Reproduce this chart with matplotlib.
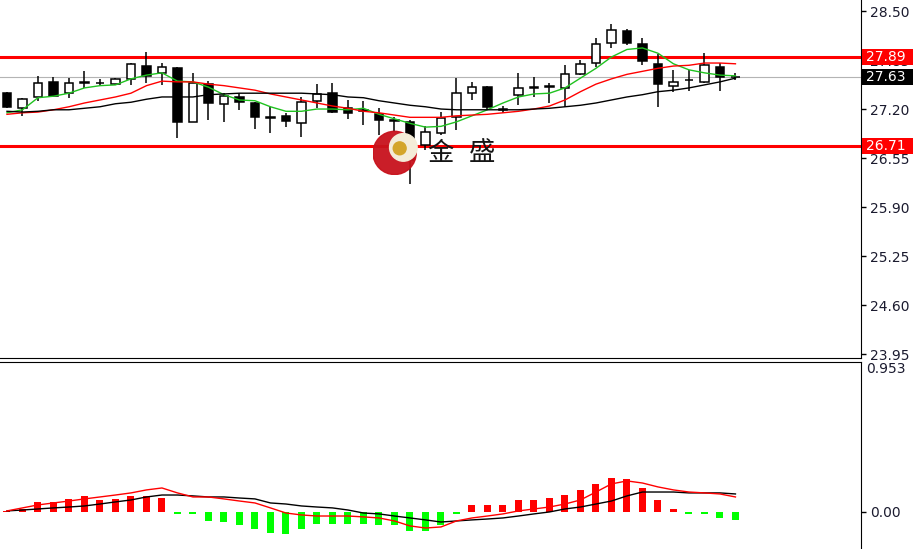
import numpy as np
import matplotlib.pyplot as plt
from matplotlib.patches import Rectangle, Circle
from matplotlib.transforms import blended_transform_factory

# candle data (oldest first)
opens  = [27.41, 27.21, 27.36, 27.56, 27.41, 27.55, 27.54, 27.53, 27.60, 27.77,
          27.68, 27.74, 27.03, 27.53, 27.27, 27.36, 27.28, 27.08, 27.11, 27.01,
          27.31, 27.41, 27.21, 27.19, 27.13, 27.05, 27.03, 26.72, 26.88, 27.09,
          27.41, 27.49, 27.19, 27.39, 27.48, 27.49, 27.48, 27.66, 27.81, 28.08,
          28.23, 28.06, 27.80, 27.51, 27.58, 27.56, 27.76, 27.62]
highs  = [27.42, 27.34, 27.64, 27.62, 27.61, 27.70, 27.60, 27.61, 27.81, 27.96,
          27.81, 27.76, 27.68, 27.57, 27.41, 27.41, 27.29, 27.23, 27.15, 27.36,
          27.53, 27.55, 27.32, 27.31, 27.21, 27.09, 27.05, 26.97, 27.16, 27.61,
          27.56, 27.51, 27.24, 27.68, 27.62, 27.55, 27.78, 27.85, 28.14, 28.33,
          28.26, 28.14, 27.93, 27.72, 27.72, 27.94, 27.81, 27.68]
lows   = [27.21, 27.11, 27.31, 27.36, 27.35, 27.48, 27.50, 27.52, 27.52, 27.55,
          27.52, 26.82, 27.03, 27.05, 27.03, 27.19, 26.93, 26.88, 26.96, 26.83,
          27.21, 27.15, 27.07, 26.99, 26.86, 26.89, 26.21, 26.66, 26.86, 26.92,
          27.32, 27.19, 27.15, 27.25, 27.36, 27.28, 27.23, 27.65, 27.76, 28.01,
          28.05, 27.78, 27.23, 27.43, 27.44, 27.55, 27.44, 27.58]
closes = [27.23, 27.33, 27.55, 27.37, 27.55, 27.56, 27.55, 27.60, 27.80, 27.64,
          27.76, 27.03, 27.55, 27.28, 27.37, 27.29, 27.09, 27.09, 27.04, 27.29,
          27.40, 27.16, 27.15, 27.18, 27.05, 27.04, 26.52, 26.90, 27.08, 27.41,
          27.49, 27.23, 27.20, 27.48, 27.49, 27.51, 27.66, 27.80, 28.06, 28.25,
          28.08, 27.84, 27.53, 27.56, 27.59, 27.78, 27.62, 27.63]

# moving averages as drawn on the chart
ma_fast = [27.15, 27.19, 27.35, 27.37, 27.41, 27.48, 27.51, 27.52, 27.60, 27.65,
           27.68, 27.57, 27.56, 27.49, 27.39, 27.32, 27.31, 27.23, 27.17, 27.17,
           27.20, 27.20, 27.19, 27.21, 27.13, 27.07, 27.01, 26.96, 26.97, 27.03,
           27.11, 27.19, 27.28, 27.36, 27.40, 27.41, 27.48, 27.61, 27.74, 27.89,
           27.99, 28.01, 27.94, 27.80, 27.72, 27.68, 27.65, 27.64]
ma_mid  = [27.13, 27.15, 27.16, 27.19, 27.23, 27.28, 27.32, 27.36, 27.41, 27.51,
           27.57, 27.56, 27.56, 27.53, 27.51, 27.48, 27.45, 27.40, 27.36, 27.32,
           27.28, 27.24, 27.21, 27.17, 27.15, 27.12, 27.09, 27.09, 27.09, 27.11,
           27.12, 27.13, 27.15, 27.17, 27.20, 27.24, 27.32, 27.43, 27.53, 27.60,
           27.66, 27.70, 27.74, 27.77, 27.78, 27.81, 27.81, 27.80]
ma_slow = [27.17, 27.16, 27.17, 27.19, 27.19, 27.21, 27.23, 27.27, 27.29, 27.33,
           27.36, 27.36, 27.36, 27.39, 27.40, 27.41, 27.41, 27.41, 27.41, 27.41,
           27.40, 27.39, 27.36, 27.35, 27.31, 27.28, 27.25, 27.23, 27.20, 27.19,
           27.19, 27.19, 27.19, 27.19, 27.20, 27.21, 27.23, 27.25, 27.28, 27.32,
           27.36, 27.39, 27.43, 27.45, 27.48, 27.52, 27.56, 27.61]

# MACD panel
macd_hist = [0.005, 0.02, 0.066, 0.066, 0.087, 0.107, 0.08, 0.087, 0.107, 0.107,
             0.093, -0.012, -0.012, -0.06, -0.067, -0.087, -0.113, -0.14, -0.147, -0.113,
             -0.08, -0.08, -0.08, -0.08, -0.087, -0.087, -0.127, -0.127, -0.087, -0.012,
             0.047, 0.047, 0.047, 0.08, 0.08, 0.093, 0.113, 0.147, 0.187, 0.227,
             0.22, 0.16, 0.08, 0.02, -0.012, -0.012, -0.04, -0.053]
macd_black = [0.007, 0.013, 0.02, 0.027, 0.033, 0.04, 0.053, 0.067, 0.08, 0.1,
              0.113, 0.113, 0.107, 0.1, 0.1, 0.093, 0.087, 0.06, 0.053, 0.04,
              0.033, 0.027, 0.013, -0.007, -0.013, -0.027, -0.04, -0.053, -0.067, -0.06,
              -0.053, -0.047, -0.04, -0.027, -0.013, 0.0, 0.02, 0.033, 0.053, 0.073,
              0.107, 0.133, 0.133, 0.133, 0.127, 0.127, 0.127, 0.12]
macd_red = [0.007, 0.027, 0.047, 0.06, 0.073, 0.087, 0.1, 0.113, 0.127, 0.147,
            0.16, 0.127, 0.1, 0.1, 0.087, 0.073, 0.06, 0.027, -0.007, -0.02,
            -0.027, -0.027, -0.027, -0.033, -0.04, -0.06, -0.093, -0.107, -0.1, -0.06,
            -0.04, -0.027, -0.013, 0.007, 0.02, 0.033, 0.053, 0.08, 0.133, 0.187,
            0.207, 0.193, 0.167, 0.147, 0.133, 0.127, 0.12, 0.1]

price_ticks = [28.50, 27.85, 27.20, 26.55, 25.90, 25.25, 24.60, 23.95]
resist = 27.89
support = 26.71
last_price = 27.63
macd_top = 0.953

txt_col = '#1b1b2f'
fs = 10
W, H = 913, 549
fig = plt.figure(figsize=(W / 100, H / 100), dpi=100)
ax = fig.add_axes([0, 1 - 358 / H, 861 / W, 358 / H])
ax2 = fig.add_axes([0, 0, 861 / W, 187 / H])

x = np.arange(len(closes))

# price panel
for i in x:
    ax.vlines(i, lows[i], highs[i], color='black', lw=1.1, zorder=2)
    bottom = min(opens[i], closes[i])
    height = max(abs(closes[i] - opens[i]), 0.004)
    face = 'white' if closes[i] >= opens[i] else 'black'
    ax.add_patch(Rectangle((i - 0.28, bottom), 0.56, height, facecolor=face,
                           edgecolor='black', lw=1.1, zorder=3))

ax.plot(x, ma_fast, color='#1fc21f', lw=1, zorder=4)
ax.plot(x, ma_mid, color='red', lw=1, zorder=4)
ax.plot(x, ma_slow, color='black', lw=1, zorder=4)

ax.axhline(last_price, color='#b4b4b4', lw=0.8, zorder=1)
ax.axhline(resist, color='#ff0000', lw=2.2, zorder=1.5)
ax.axhline(support, color='#ff0000', lw=2.2, zorder=1.5)

ax.set_xlim(-0.45, 55.1)
ax.set_ylim(23.898, 28.646)
ax.set_xticks([])
ax.yaxis.tick_right()
ax.set_yticks(price_ticks)
ax.set_yticklabels(['%.2f' % t for t in price_ticks])
ax.tick_params(axis='y', length=3.5, width=1, pad=3, labelsize=fs, labelcolor=txt_col)
for s in ['top', 'left']:
    ax.spines[s].set_visible(False)

# price tags on the axis
tr = blended_transform_factory(ax.transAxes, ax.transData)
for val, bg in [(resist, '#ff0000'), (support, '#ff0000'), (last_price, 'black')]:
    ax.add_patch(Rectangle((1.0015, val - 0.105), 0.07, 0.21, transform=tr,
                           facecolor=bg, edgecolor='none', clip_on=False, zorder=9))
    ax.text(1.006, val, '%.2f' % val, transform=tr, ha='left', va='center',
            fontsize=fs, color='white', clip_on=False, zorder=10)

# watermark logo
lg = fig.add_axes([373 / W, 1 - 175 / H, 46 / W, 46 / H])
lg.set_xlim(0, 1)
lg.set_ylim(0, 1)
lg.axis('off')
lg.add_patch(Circle((0.47, 0.48), 0.47, color='#c8121c', alpha=0.95))
lg.add_patch(Circle((0.66, 0.60), 0.30, color='#f4ecd8'))
lg.add_patch(Circle((0.58, 0.58), 0.14, color='#d4a52a'))
for ch, px in [('金', 440), ('盛', 482)]:
    fig.text(px / W, 1 - 153 / H, ch, fontsize=19, color='#151515',
             ha='center', va='center', family=['Noto Sans CJK SC', 'DejaVu Sans'])

# MACD panel
cols = ['#ff0000' if v >= 0 else '#00ff00' for v in macd_hist]
ax2.bar(x, macd_hist, width=0.45, color=cols, zorder=2)
ax2.plot(x, macd_black, color='black', lw=1, zorder=3)
ax2.plot(x, macd_red, color='red', lw=1, zorder=3)
ax2.set_xlim(-0.45, 55.1)
ax2.set_ylim(-0.247, 1.0)
ax2.set_xticks([])
ax2.yaxis.tick_right()
ax2.set_yticks([0.0])
ax2.set_yticklabels(['0.00'])
ax2.tick_params(axis='y', length=3.5, width=1, pad=3, labelsize=fs, labelcolor=txt_col)
for s in ['bottom', 'left']:
    ax2.spines[s].set_visible(False)
ax2.text(1.006, macd_top, '%.3f' % macd_top, transform=ax2.get_yaxis_transform(),
         ha='left', va='center', fontsize=fs, color=txt_col, clip_on=False)

fig.savefig('out.png', dpi=100)
